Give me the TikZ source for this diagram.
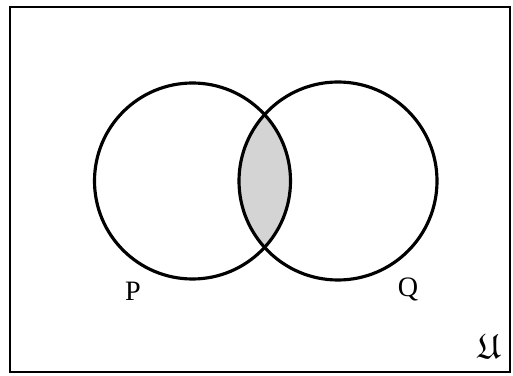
\documentclass[tikz,border=0pt]{standalone}
\usepackage{amssymb}
\usepackage{fontspec}
\setmainfont{Liberation Serif}
\definecolor{ShadeGray}{RGB}{212, 212, 212}
\usetikzlibrary{positioning}

\begin{document}
\begin{tikzpicture}[x=0.02cm, y=0.02cm, font=\fontsize{16}{18}\selectfont]
\useasboundingbox (0,0) rectangle (513,375);
\draw[line width=1.1pt] (10,3) rectangle (510,368);
\coordinate (cP) at (192.5,194); \coordinate (cQ) at (338,194);
\begin{scope} \clip (cP) circle (98); \fill[ShadeGray] (cQ) circle (99); \end{scope}
\foreach \c/\r in {cP/98, cQ/99} { \draw[line width=1.8pt] (\c) circle (\r); }
\node (P) at (133,84) {P};
\node (Q) at (408,86) {Q};
\node[font=\fontsize{20}{22}\selectfont] (U) at (489,29) {$\mathfrak{U}$};
\end{tikzpicture}
\end{document}
